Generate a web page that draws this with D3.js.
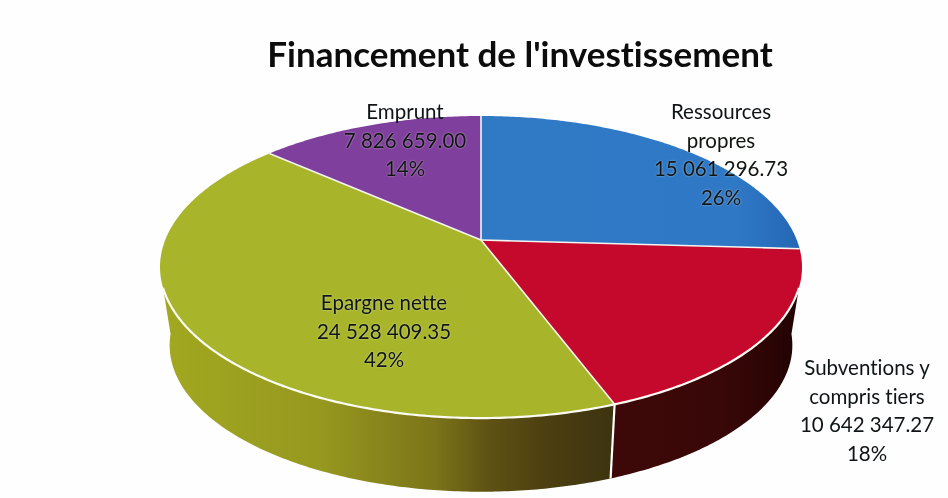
<!DOCTYPE html>
<html><head><meta charset="utf-8">
<script src="https://cdn.jsdelivr.net/npm/d3@7"></script>
<style>
html,body{margin:0;padding:0;background:#fefefe;overflow:hidden}
svg{filter:blur(0.45px)}
text{font-family:Lato,"Open Sans",sans-serif;fill:#0f1416;font-variant-ligatures:none;font-feature-settings:"liga" 0}
.inside{text-shadow:0 0 2px rgba(255,255,230,.6)}
</style></head><body>
<svg id="c" width="948" height="498"></svg>
<script>
const categories=["Ressources propres","Subventions y compris tiers","Epargne nette","Emprunt"];
const values=[15061296.73,10642347.27,24528409.35,7826659.00];
const percentLabels=["26%","18%","42%","14%"];
const labelLines=[["Ressources","propres"],["Subventions y","compris tiers"],["Epargne nette"],["Emprunt"]];
const topColors=["#2f79c4","#c5092c","#a8b52a","#7f3f9c"];
const chartTitle="Financement de l'investissement";

const labelAnchors=[[721,112],[867,368],[384,303],[405,112]];
const svg=d3.select("#c");
const defs=svg.append("defs");
const fmt=d3.formatLocale({decimal:".",thousands:"\u00a0",grouping:[3],currency:["",""]}).format(",.2f");

function grad(id,stops,x1,x2){
  const g=defs.append("linearGradient").attr("id",id).attr("gradientUnits","userSpaceOnUse")
    .attr("x1",x1).attr("x2",x2).attr("y1",0).attr("y2",0);
  stops.forEach(s=>g.append("stop").attr("offset",s[0]).attr("stop-color",s[1]));
}
grad("sideRed",[[0,"#3e0808"],[.6,"#380707"],[.88,"#2a0404"],[1,"#1e0303"]],612,800);
grad("sideYel",[[0,"#a2a820"],[.35,"#96981f"],[.6,"#7c7519"],[.72,"#5f5214"],[.85,"#4c3f10"],[1,"#3c3310"]],162,615);
grad("topBlue",[[0,"#3079c4"],[.8,"#2f78c6"],[1,"#2467b4"]],481,800);
const sideFill=["none","url(#sideRed)","url(#sideYel)","none"];

// perspective projection of the disc
const cx=481,cy=240,k=.179,a=146.2,b=315.8,sBot=.97,cyBot=319;
function proj(t,s,c0){const d=1+k*Math.cos(t);
  return [cx+s*b*Math.sin(t)/d, c0-s*a*Math.cos(t)/d];}
const topRim=t=>proj(t,1,cy), botRim=t=>proj(t,sBot,cyBot);
const line=d3.line();
const arcPts=(f,t0,t1)=>{const n=Math.max(2,Math.ceil(Math.abs(t1-t0)*90));
  return d3.range(n+1).map(i=>f(t0+(t1-t0)*i/n));};

const arcs=d3.pie().sort(null)(values);
const rad=Math.PI/180;
const tT0=108*rad,tT1=252*rad,tB0=96*rad,tB1=264*rad;

// side walls
arcs.forEach((d,i)=>{
  const a0=Math.max(d.startAngle,tT0),a1=Math.min(d.endAngle,tT1);
  const b0=Math.max(d.startAngle,tB0),b1=Math.min(d.endAngle,tB1);
  if(a1<=a0) return;
  svg.append("path").attr("d",line(arcPts(topRim,a0,a1).concat(arcPts(botRim,b1,b0)))+"Z")
    .attr("fill",sideFill[i]);
});
// separators on the wall
arcs.forEach(d=>{
  if(d.startAngle>tT0&&d.startAngle<tT1)
    svg.append("path").attr("d",line([topRim(d.startAngle),botRim(d.startAngle)]))
      .attr("stroke","#fff").attr("stroke-width",2.2).attr("fill","none");
});
// top face
const center=[cx,cy];
arcs.forEach((d,i)=>{
  svg.append("path").attr("d",line([center].concat(arcPts(topRim,d.startAngle,d.endAngle)))+"Z")
    .attr("fill",i===0?"url(#topBlue)":topColors[i]);
});
// separators and rim highlight
arcs.forEach(d=>{
  svg.append("path").attr("d",line([center,topRim(d.startAngle)]))
    .attr("stroke","#f4f6f2").attr("stroke-width",1.6).attr("fill","none");
});
svg.append("path").attr("d",line(arcPts(topRim,tT0,tT1)))
  .attr("stroke","#fbfbf4").attr("stroke-width",2.2).attr("fill","none");

// title
svg.append("text").attr("x",520).attr("y",67).attr("text-anchor","middle")
  .attr("font-size",35).attr("font-weight",700).style("fill","#0c0c0c").text(chartTitle);

// labels
const lh=28.6;
categories.forEach((c,i)=>{
  const lines=labelLines[i].concat([fmt(values[i]),percentLabels[i]]);
  const [x,y]=labelAnchors[i];
  const t=svg.append("text").attr("text-anchor","middle").attr("font-size",20.5);
  lines.forEach((s,j)=>{
    const inside=(i===2)||(i===3&&j>0)||(i===0&&j>0);
    t.append("tspan").attr("x",x).attr("y",y+7+j*lh).attr("class",inside?"inside":null).text(s);
  });
});
</script></body></html>
